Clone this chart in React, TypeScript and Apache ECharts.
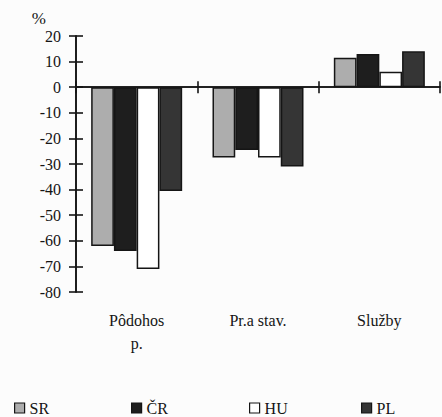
import React, { useEffect, useRef } from "react";
import * as echarts from "echarts";

const categories = ["Pôdohos\np.", "Pr.a stav.", "Služby"];
const seriesNames = ["SR", "ČR", "HU", "PL"];
const srValues = [-62, -27.5, 11.5];
const crValues = [-64, -24.5, 13];
const huValues = [-71, -27.5, 6];
const plValues = [-40.5, -31, 14];
const yTicks = { min: -80, max: 20, interval: 10 };

const FONT = "Liberation Serif";
const INK = "#151515";

export default function App() {
  const ref = useRef<HTMLDivElement>(null);
  useEffect(() => {
    if (!ref.current) return;
    const chart = echarts.init(ref.current, null, { renderer: "svg" });
    const values = [srValues, crValues, huValues, plValues];
    const fills = ["#adadad", "#1e1e1e", "#ffffff", "#353535"];
    const legendLefts = [14, 131, 249, 361];
    const baseY = {
      type: "value",
      min: yTicks.min,
      max: yTicks.max,
      interval: yTicks.interval,
      position: "left",
      splitLine: { show: false },
      axisLine: { show: true, lineStyle: { color: INK, width: 1.6 } },
    };
    const baseX = {
      type: "category",
      data: categories,
      position: "bottom",
      axisLine: { show: true, onZero: true, onZeroAxisIndex: 0, lineStyle: { color: INK, width: 1.6 } },
      axisLabel: { show: false },
      splitLine: { show: false },
    };
    chart.setOption({
      animation: false,
      backgroundColor: "#fcfcfc",
      grid: { left: 76, right: 2, top: 36, bottom: 125, containLabel: false },
      legend: seriesNames.map((n, i) => ({
        data: [n],
        left: legendLefts[i],
        top: 400,
        padding: 0,
        itemWidth: 10,
        itemHeight: 10,
        itemGap: 3,
        icon: "rect",
        itemStyle: { borderColor: INK, borderWidth: 1.2 },
        textStyle: { fontFamily: FONT, fontSize: 16, color: INK },
      })),
      xAxis: [
        { ...baseX, axisTick: { show: true, inside: false, length: 6, lineStyle: { color: INK, width: 1.6 } } },
        { ...baseX, axisTick: { show: true, inside: true, length: 6, lineStyle: { color: INK, width: 1.6 } } },
        {
          type: "category",
          data: categories,
          position: "bottom",
          axisLine: { show: false, onZero: false },
          axisTick: { show: false },
          axisLabel: {
            show: true,
            margin: 17,
            fontFamily: FONT,
            fontSize: 16,
            lineHeight: 23,
            color: INK,
          },
        },
      ],
      yAxis: [
        {
          ...baseY,
          name: "%",
          nameLocation: "end",
          nameGap: 9,
          nameTextStyle: { fontFamily: FONT, fontSize: 17, color: INK, align: "right", padding: [0, 30, 0, 0] },
          axisTick: { show: true, inside: false, length: 7, lineStyle: { color: INK, width: 1.6 } },
          axisLabel: { show: true, margin: 15, fontFamily: FONT, fontSize: 16, color: INK },
        },
        {
          ...baseY,
          axisTick: { show: true, inside: true, length: 7, lineStyle: { color: INK, width: 1.6 } },
          axisLabel: { show: false },
        },
      ],
      series: seriesNames.map((n, i) => ({
        name: n,
        type: "bar",
        xAxisIndex: 0,
        yAxisIndex: 0,
        data: values[i],
        barGap: "0%",
        barCategoryGap: "25%",
        itemStyle: {
          color: fills[i],
          borderColor: INK,
          borderWidth: 1.5,
        },
      })),
    });
    return () => chart.dispose();
  }, []);
  return <div ref={ref} style={{ position: "fixed", left: 0, top: 0, width: 442, height: 417 }} />;
}
